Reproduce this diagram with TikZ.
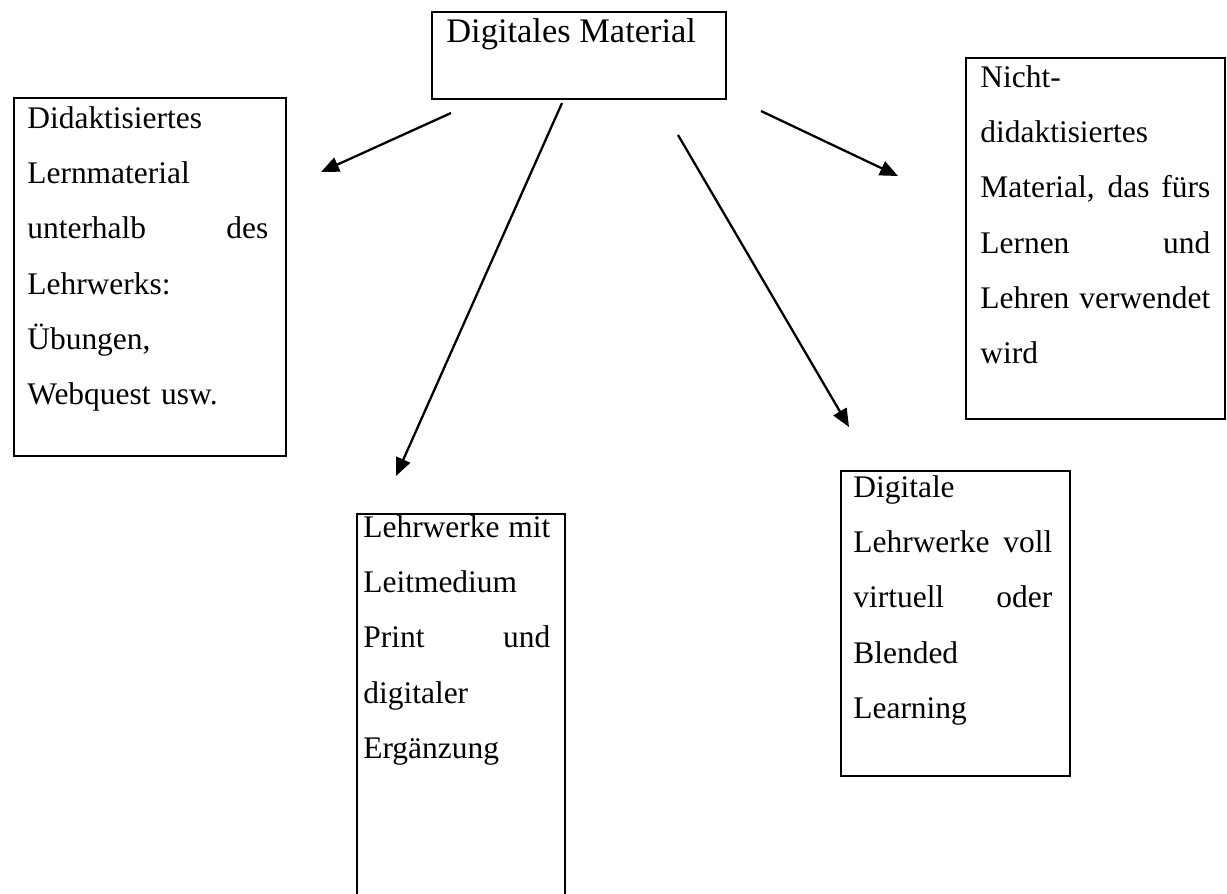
\documentclass[tikz,border=0pt]{standalone}
\usepackage{fontspec}
\setmainfont{Liberation Serif}
\usetikzlibrary{arrows.meta}
\newcommand{\fullline}[1]{\makebox[\linewidth][s]{\spaceskip=0pt\xspaceskip=0pt\relax #1}}

\begin{document}
\begin{tikzpicture}[
  box/.style={draw, line width=1.1pt, anchor=north west, inner sep=0pt},
  boxtext/.style={anchor=base west, inner sep=0pt, align=left,
                  font=\fontsize{17.9pt}{31.5pt}\selectfont},
  arr/.style={-{Triangle[length=0.36cm, width=0.30cm]}, line width=1.3pt}
]
\useasboundingbox (0,0) rectangle (24.54,-17.86);
\clip (0,0) rectangle (24.54,-17.86);

% frames
\node[box, minimum width=5.88cm, minimum height=1.74cm] (mat) at (8.62,-0.22) {};
\node[box, minimum width=5.44cm, minimum height=7.16cm] (did) at (0.26,-1.94) {};
\node[box, minimum width=5.18cm, minimum height=7.22cm] (nid) at (19.30,-1.14) {};
\node[box, minimum width=4.16cm, minimum height=8.14cm] (lwm) at (7.12,-10.26) {};
\node[box, minimum width=4.58cm, minimum height=6.10cm] (dlw) at (16.80,-9.40) {};

% texts
\node[boxtext, font=\fontsize{19.6pt}{24pt}\selectfont] (matText)
  at ([shift={(0.30,-0.62)}]mat.north west) {Digitales Material};
\node[boxtext, text width=4.82cm] (didText) at ([shift={(0.28,-0.62)}]did.north west)
  {Didaktisiertes\\Lernmaterial\\\fullline{unterhalb des}\\Lehrwerks:\\Übungen,\\Webquest usw.};
\node[boxtext, text width=4.60cm] (nidText) at ([shift={(0.30,-0.60)}]nid.north west)
  {Nicht-\\didaktisiertes\\\fullline{Material, das fürs}\\\fullline{Lernen und}\\\fullline{Lehren verwendet}\\wird};
\node[boxtext, text width=3.74cm] (lwmText) at ([shift={(0.14,-0.48)}]lwm.north west)
  {\fullline{Lehrwerke mit}\\Leitmedium\\\fullline{Print und}\\digitaler\\Ergänzung};
\node[boxtext, text width=3.98cm] (dlwText) at ([shift={(0.26,-0.54)}]dlw.north west)
  {Digitale\\\fullline{Lehrwerke voll}\\\fullline{virtuell oder}\\Blended\\Learning};

% free arrow ends
\coordinate (didFrom) at (9.02,-2.26);
\coordinate (didTo)   at (6.42,-3.44);
\coordinate (lwmFrom) at (11.24,-2.06);
\coordinate (lwmTo)   at (7.92,-9.52);
\coordinate (dlwFrom) at (13.56,-2.70);
\coordinate (dlwTo)   at (16.98,-8.54);
\coordinate (nidFrom) at (15.22,-2.22);
\coordinate (nidTo)   at (17.96,-3.52);

\draw[arr] (didFrom) -- (didTo);
\draw[arr] (lwmFrom) -- (lwmTo);
\draw[arr] (dlwFrom) -- (dlwTo);
\draw[arr] (nidFrom) -- (nidTo);
\end{tikzpicture}
\end{document}
